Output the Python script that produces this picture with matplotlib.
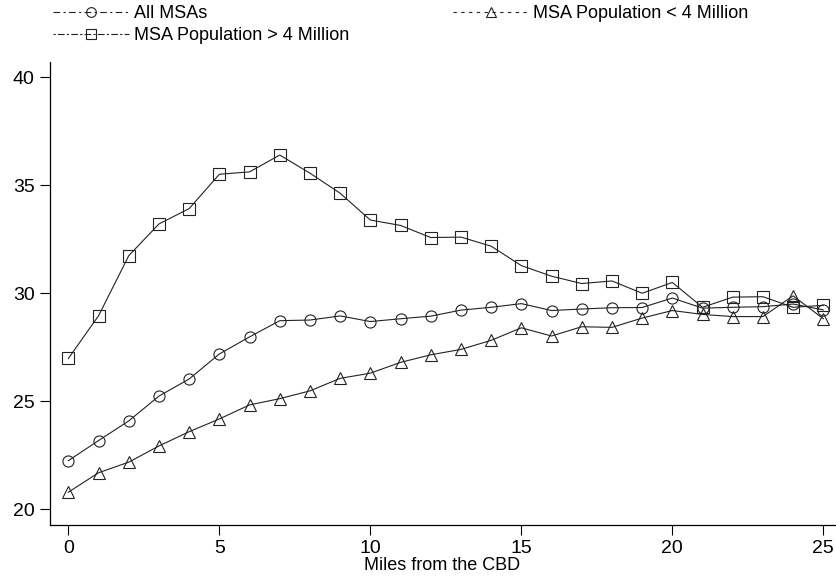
import matplotlib
matplotlib.use("Agg")
import matplotlib.pyplot as plt
from matplotlib.lines import Line2D

plt.rcParams['font.family'] = ['Liberation Sans', 'DejaVu Sans']

miles = list(range(26))
all_msas = [22.25, 23.18, 24.09, 25.24, 26.03, 27.19, 27.98, 28.73, 28.76, 28.95,
            28.69, 28.82, 28.94, 29.22, 29.35, 29.52, 29.20, 29.27, 29.33, 29.34,
            29.78, 29.31, 29.35, 29.38, 29.50, 29.23]
small_msas = [20.79, 21.69, 22.18, 22.93, 23.59, 24.18, 24.83, 25.12, 25.48, 26.06,
              26.30, 26.80, 27.15, 27.40, 27.82, 28.40, 28.02, 28.45, 28.42, 28.85,
              29.20, 29.02, 28.92, 28.92, 29.88, 28.82]
large_msas = [26.98, 28.96, 31.74, 33.21, 33.92, 35.51, 35.62, 36.40, 35.56, 34.63,
              33.39, 33.14, 32.58, 32.60, 32.18, 31.28, 30.79, 30.45, 30.57, 30.00,
              30.50, 29.35, 29.82, 29.84, 29.35, 29.44]
labels = ["All MSAs", "MSA Population > 4 Million", "MSA Population < 4 Million"]
xticks = [0, 5, 10, 15, 20, 25]
yticks = [20, 25, 30, 35, 40]

fig = plt.figure(figsize=(8.37, 5.81), dpi=100)
ax = fig.add_axes([0.0597, 0.0964, 0.938, 0.7966])

lc = '#222222'
kw = dict(color=lc, linewidth=0.8, markerfacecolor='none', markeredgecolor=lc,
          markeredgewidth=0.8)
ax.plot(miles, large_msas, marker='s', markersize=8.5, **kw)
ax.plot(miles, all_msas, marker='o', markersize=8, **kw)
ax.plot(miles, small_msas, marker='^', markersize=8.5, **kw)

ax.set_xlim(-0.61, 25.39)
ax.set_ylim(19.27, 40.7)
ax.set_xticks(xticks)
ax.set_yticks(yticks)
ax.tick_params(axis='both', direction='out', length=7, width=0.8, labelsize=14,
               colors='black', pad=4)
for s in ['top', 'right']:
    ax.spines[s].set_visible(False)
for s in ['left', 'bottom']:
    ax.spines[s].set_linewidth(0.9)
ax.set_xlabel("Miles from the CBD", fontsize=13, labelpad=0)

handles = [
    Line2D([], [], marker='o', markersize=7, linestyle=(0, (6, 3, 2, 3)), **kw),
    Line2D([], [], marker='s', markersize=7, linestyle=(0, (2, 2, 6, 2)), **kw),
    Line2D([], [], marker='^', markersize=7, linestyle=(0, (3, 4)), **kw),
]
fig.legend(handles, labels, ncol=2, loc='upper left', bbox_to_anchor=(0.055, 1.004),
           frameon=False, fontsize=13, handlelength=4.2, handletextpad=0.25,
           columnspacing=5.75, labelspacing=0.3, borderaxespad=0.0)

fig.savefig("out.png", dpi=100, facecolor='white')
